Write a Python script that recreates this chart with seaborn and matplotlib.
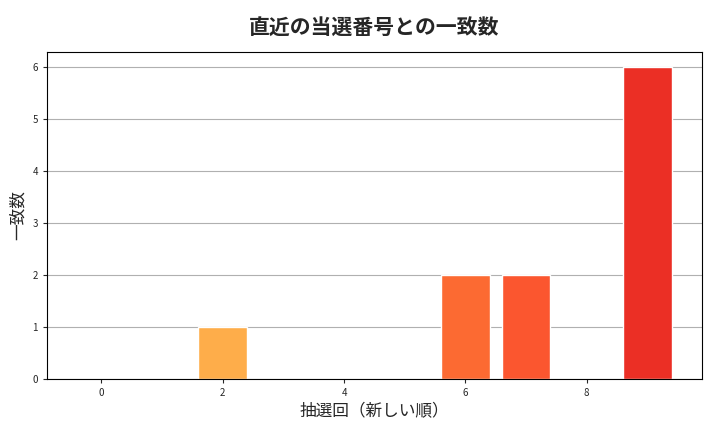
import matplotlib
matplotlib.use("Agg")
import matplotlib.pyplot as plt
import seaborn as sns
import pandas as pd

draw_index = [0, 1, 2, 3, 4, 5, 6, 7, 8, 9]
match_count = [0, 0, 1, 0, 0, 0, 2, 2, 0, 6]
bar_colors = ["#FEE391", "#FED976", "#FEAD4A", "#FD9A40", "#FD8D3C", "#FC7A36",
              "#FC6A32", "#FB562F", "#F3432B", "#EB2F25"]

sns.set_style("white")
plt.rcParams['font.family'] = ['Noto Sans CJK JP', 'DejaVu Sans']

df = pd.DataFrame({"idx": draw_index, "cnt": match_count})
fig, ax = plt.subplots(figsize=(7.2, 4.32), dpi=100)
sns.barplot(data=df, x="idx", y="cnt", hue="idx", palette=bar_colors,
            native_scale=True, legend=False, width=0.8, ax=ax, saturation=1)
ax.set_axisbelow(True)
ax.yaxis.grid(True, color="#b0b0b0", linewidth=0.8)
ax.set_xticks([0, 2, 4, 6, 8])
ax.set_xlim(-0.9, 9.9)
ax.set_ylim(0, 6.3)
ax.tick_params(labelsize=7, length=3, left=True, bottom=True)
for s in ax.spines.values():
    s.set_color("black")
    s.set_linewidth(0.8)
ax.set_title("直近の当選番号との一致数", fontsize=15, fontweight="bold", pad=12)
ax.set_xlabel("抽選回（新しい順）", fontsize=12)
ax.set_ylabel("一致数", fontsize=12)
fig.subplots_adjust(left=0.065, right=0.975, top=0.88, bottom=0.123)
fig.savefig("out.png")
